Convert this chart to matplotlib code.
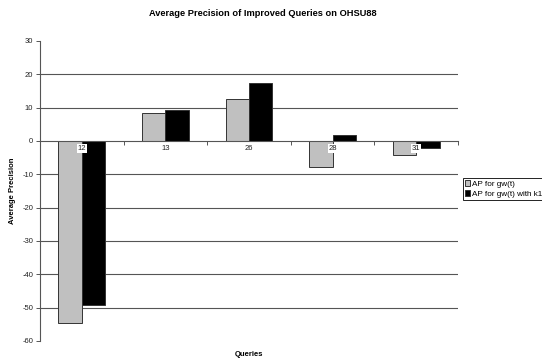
import numpy as np
import matplotlib.pyplot as plt

plt.rcParams['font.family'] = ['Liberation Sans', 'DejaVu Sans']
plt.rcParams['axes.unicode_minus'] = False

queries = ['12', '13', '26', '28', '31']
ap_gw = [-54.6, 8.3, 12.5, -7.7, -4.2]
ap_gw_k1 = [-49.3, 9.4, 17.3, 1.9, -2.2]
series_names = ['AP for gw(t)', 'AP for gw(t) with k1']
yticks = list(range(-60, 31, 10))

fig = plt.figure(figsize=(5.42, 3.6), dpi=100)
ax = fig.add_axes([40 / 542, 1 - 341 / 360, 418 / 542, 300 / 360])

x = np.arange(len(queries))
w = 0.28
b1 = ax.bar(x - w / 2, ap_gw, w, color='#c0c0c0', edgecolor='#333333', linewidth=0.7,
            label=series_names[0], zorder=2)
b2 = ax.bar(x + w / 2, ap_gw_k1, w, color='black', edgecolor='#333333', linewidth=0.7,
            label=series_names[1], zorder=2)

ax.set_xlim(-0.5, len(queries) - 0.5)
ax.set_ylim(yticks[0], yticks[-1])

# horizontal gridlines, skipping the frame ends and the zero axis
for v in yticks[1:-1]:
    if v != 0:
        ax.axhline(v, color='#555555', linewidth=0.8, zorder=1)

for s in ['top', 'right']:
    ax.spines[s].set_visible(False)
ax.spines['left'].set_color('#555555')
ax.spines['left'].set_linewidth(0.8)
ax.spines['bottom'].set_position(('data', 0))
ax.spines['bottom'].set_color('#555555')
ax.spines['bottom'].set_linewidth(0.8)
ax.spines['bottom'].set_zorder(3)
ax.xaxis.set_zorder(4)

ax.set_yticks(yticks)
ax.tick_params(axis='y', labelsize=5.5, length=3, width=0.7, color='#555555',
               labelcolor='#222222', pad=2)

ax.set_xticks(x)
ax.set_xticklabels(queries)
ax.set_xticks(np.arange(len(queries)) + 0.5, minor=True)
ax.tick_params(axis='x', which='major', length=0, labelsize=5.5, labelcolor='#222222', pad=3)
ax.tick_params(axis='x', which='minor', length=3, width=0.7, color='#555555', direction='out')
for lbl in ax.get_xticklabels():
    lbl.set_bbox(dict(facecolor='white', edgecolor='none', pad=0.6))

ax.set_ylabel('Average Precision', fontsize=5.5, fontweight='bold', labelpad=5)
ax.yaxis.set_label_coords(-0.058, 0.5)
fig.text(249 / 542, 1 - 355 / 360, 'Queries', fontsize=5.5, fontweight='bold',
         ha='center', va='center')
fig.text(263 / 542, 1 - 13 / 360, 'Average Precision of Improved Queries on OHSU88',
         fontsize=6.7, fontweight='bold', ha='center', va='center')

leg = fig.legend(handles=[b1, b2], labels=series_names, loc='upper left',
                 bbox_to_anchor=(463 / 542, 1 - 178 / 360), fontsize=5.9,
                 frameon=True, fancybox=False, edgecolor='black', framealpha=1,
                 handlelength=0.6, handleheight=0.6, handletextpad=0.25,
                 borderpad=0.3, labelspacing=0.3, borderaxespad=0)
leg.get_frame().set_linewidth(0.6)

fig.savefig('out.png', dpi=100)
